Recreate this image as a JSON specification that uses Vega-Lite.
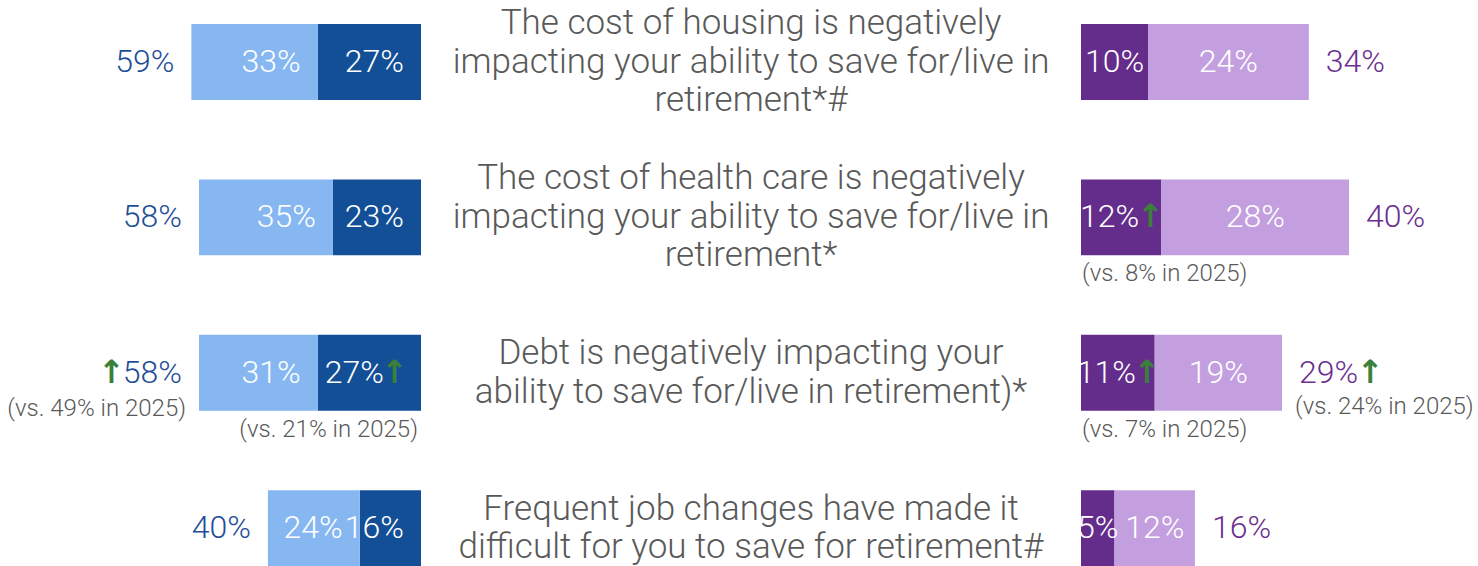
{
  "$schema": "https://vega.github.io/schema/vega-lite/v6.json",
  "padding": 0,
  "spacing": 0,
  "bounds": "flush",
  "resolve": {"scale": {"color": "independent", "x": "independent", "y": "independent"}},
  "config": {"view": {"stroke": null}, "text": {"font": "Roboto", "fontWeight": 300}},
  "datasets": {
    "bars": [
      {"item": "Housing", "side": "agree", "seg": "Strongly", "value": 27, "label": "27%", "up": false},
      {"item": "Housing", "side": "agree", "seg": "Somewhat", "value": 33, "label": "33%", "up": false, "total": "59%"},
      {"item": "Health care", "side": "agree", "seg": "Strongly", "value": 23, "label": "23%", "up": false},
      {"item": "Health care", "side": "agree", "seg": "Somewhat", "value": 35, "label": "35%", "up": false, "total": "58%"},
      {"item": "Debt", "side": "agree", "seg": "Strongly", "value": 27, "label": "27%", "up": true, "note": "(vs. 21% in 2025)"},
      {"item": "Debt", "side": "agree", "seg": "Somewhat", "value": 31, "label": "31%", "up": false, "total": "58%", "totalUp": true, "totalNote": "(vs. 49% in 2025)"},
      {"item": "Job changes", "side": "agree", "seg": "Strongly", "value": 16, "label": "16%", "up": false},
      {"item": "Job changes", "side": "agree", "seg": "Somewhat", "value": 24, "label": "24%", "up": false, "total": "40%"},
      {"item": "Housing", "side": "disagree", "seg": "Strongly", "value": 10, "label": "10%", "up": false},
      {"item": "Housing", "side": "disagree", "seg": "Somewhat", "value": 24, "label": "24%", "up": false, "total": "34%"},
      {"item": "Health care", "side": "disagree", "seg": "Strongly", "value": 12, "label": "12%", "up": true, "note": "(vs. 8% in 2025)"},
      {"item": "Health care", "side": "disagree", "seg": "Somewhat", "value": 28, "label": "28%", "up": false, "total": "40%"},
      {"item": "Debt", "side": "disagree", "seg": "Strongly", "value": 11, "label": "11%", "up": true, "note": "(vs. 7% in 2025)"},
      {"item": "Debt", "side": "disagree", "seg": "Somewhat", "value": 19, "label": "19%", "up": false, "total": "29%", "totalUp": true, "totalNote": "(vs. 24% in 2025)"},
      {"item": "Job changes", "side": "disagree", "seg": "Strongly", "value": 5, "label": "5%", "up": false},
      {"item": "Job changes", "side": "disagree", "seg": "Somewhat", "value": 12, "label": "12%", "up": false, "total": "16%"}
    ],
    "items": [
      {"item": "Housing", "lines": ["The cost of housing is negatively", "impacting your ability to save for/live in", "retirement*#"]},
      {"item": "Health care", "lines": ["The cost of health care is negatively", "impacting your ability to save for/live in", "retirement*"]},
      {"item": "Debt", "lines": ["Debt is negatively impacting your", "ability to save for/live in retirement)*"]},
      {"item": "Job changes", "lines": ["Frequent job changes have made it", "difficult for you to save for retirement#"]}
    ]
  },
  "hconcat": [
    {
      "width": 421,
      "height": 566,
      "data": {"name": "bars"},
      "transform": [
        {"filter": "datum.side === 'agree'"},
        {"stack": "value", "groupby": ["item"], "sort": [{"field": "seg", "order": "descending"}], "as": ["v0", "v1"]}
      ],
      "encoding": {
        "y": {"field": "item", "type": "nominal", "axis": null, "scale": {"type": "band", "domain": ["Housing", "Health care", "Debt", "Job changes"], "paddingInner": 0.512, "paddingOuter": 0.0776, "align": 1}},
        "x": {"field": "v0", "type": "quantitative", "axis": null, "scale": {"domain": [0, 110], "reverse": true, "nice": false, "zero": false}}
      },
      "layer": [
        {
          "mark": {"type": "bar"},
          "encoding": {
            "x2": {"field": "v1"},
            "color": {"field": "seg", "type": "nominal", "legend": null, "scale": {"domain": ["Strongly", "Somewhat"], "range": ["#134F97", "#86B7F1"]}}
          }
        },
        {
          "transform": [{"filter": "!datum.up"}],
          "mark": {"type": "text", "align": "right", "baseline": "middle", "dx": -17, "fontSize": 32, "color": "#FFFFFF"},
          "encoding": {"text": {"field": "label"}}
        },
        {
          "transform": [{"filter": "datum.up"}],
          "mark": {"type": "text", "align": "right", "baseline": "middle", "dx": -37, "fontSize": 32, "color": "#FFFFFF"},
          "encoding": {"text": {"field": "label"}}
        },
        {
          "transform": [{"filter": "datum.up"}],
          "mark": {"type": "text", "align": "right", "baseline": "middle", "dx": -13, "fontSize": 32, "font": "DejaVu Sans", "fontWeight": "bold", "color": "#3B7F3A"},
          "encoding": {"text": {"value": "↑"}}
        },
        {
          "transform": [{"filter": "datum.total"}],
          "mark": {"type": "text", "align": "right", "baseline": "middle", "dx": -17, "fontSize": 32, "color": "#1F4E98"},
          "encoding": {"x": {"field": "v1", "type": "quantitative"}, "text": {"field": "total"}}
        },
        {
          "transform": [{"filter": "datum.totalUp"}],
          "mark": {"type": "text", "align": "right", "baseline": "middle", "dx": -74, "fontSize": 32, "font": "DejaVu Sans", "fontWeight": "bold", "color": "#3B7F3A"},
          "encoding": {"x": {"field": "v1", "type": "quantitative"}, "text": {"value": "↑"}}
        },
        {
          "transform": [{"filter": "datum.totalNote"}],
          "mark": {"type": "text", "align": "right", "baseline": "middle", "dx": -13, "dy": 36, "fontSize": 24, "color": "#595959"},
          "encoding": {"x": {"field": "v1", "type": "quantitative"}, "text": {"field": "totalNote"}}
        },
        {
          "transform": [{"filter": "datum.note"}],
          "mark": {"type": "text", "align": "right", "baseline": "middle", "dx": -3, "dy": 57, "fontSize": 24, "color": "#595959"},
          "encoding": {"text": {"field": "note"}}
        }
      ]
    },
    {
      "width": 660,
      "height": 566,
      "data": {"name": "items"},
      "encoding": {
        "y": {"field": "item", "type": "nominal", "axis": null, "scale": {"type": "band", "domain": ["Housing", "Health care", "Debt", "Job changes"], "paddingInner": 0.512, "paddingOuter": 0.0776, "align": 1}},
        "text": {"field": "lines"}
      },
      "layer": [
        {
          "transform": [{"filter": "length(datum.lines) === 3"}],
          "mark": {"type": "text", "align": "center", "baseline": "middle", "dy": -39, "fontSize": 35, "lineHeight": 38.5, "color": "#595959"}
        },
        {
          "transform": [{"filter": "length(datum.lines) === 2"}],
          "mark": {"type": "text", "align": "center", "baseline": "middle", "dy": -19.5, "fontSize": 35, "lineHeight": 38.5, "color": "#595959"}
        }
      ]
    },
    {
      "width": 397,
      "height": 566,
      "data": {"name": "bars"},
      "transform": [
        {"filter": "datum.side === 'disagree'"},
        {"stack": "value", "groupby": ["item"], "sort": [{"field": "seg", "order": "descending"}], "as": ["v0", "v1"]}
      ],
      "encoding": {
        "y": {"field": "item", "type": "nominal", "axis": null, "scale": {"type": "band", "domain": ["Housing", "Health care", "Debt", "Job changes"], "paddingInner": 0.512, "paddingOuter": 0.0776, "align": 1}},
        "x": {"field": "v0", "type": "quantitative", "axis": null, "scale": {"domain": [0, 59.25], "nice": false, "zero": false}}
      },
      "layer": [
        {
          "mark": {"type": "bar"},
          "encoding": {
            "x2": {"field": "v1"},
            "color": {"field": "seg", "type": "nominal", "legend": null, "scale": {"domain": ["Strongly", "Somewhat"], "range": ["#642D8C", "#C49FDF"]}}
          }
        },
        {
          "transform": [
            {"fold": ["v0", "v1"], "as": ["k", "pos"]},
            {"aggregate": [{"op": "mean", "field": "pos", "as": "mid"}], "groupby": ["item", "seg", "label", "up"]}
          ],
          "encoding": {"x": {"field": "mid", "type": "quantitative"}},
          "layer": [
            {
              "transform": [{"filter": "!datum.up"}],
              "mark": {"type": "text", "align": "center", "baseline": "middle", "fontSize": 32, "color": "#FFFFFF"},
              "encoding": {"text": {"field": "label"}}
            },
            {
              "transform": [{"filter": "datum.up"}],
              "mark": {"type": "text", "align": "right", "baseline": "middle", "dx": 18, "fontSize": 32, "color": "#FFFFFF"},
              "encoding": {"text": {"field": "label"}}
            },
            {
              "transform": [{"filter": "datum.up"}],
              "mark": {"type": "text", "align": "left", "baseline": "middle", "dx": 16, "fontSize": 32, "font": "DejaVu Sans", "fontWeight": "bold", "color": "#3B7F3A"},
              "encoding": {"text": {"value": "↑"}}
            }
          ]
        },
        {
          "transform": [{"filter": "datum.total"}],
          "mark": {"type": "text", "align": "left", "baseline": "middle", "dx": 17, "fontSize": 32, "color": "#6B2F90"},
          "encoding": {"x": {"field": "v1", "type": "quantitative"}, "text": {"field": "total"}}
        },
        {
          "transform": [{"filter": "datum.totalUp"}],
          "mark": {"type": "text", "align": "left", "baseline": "middle", "dx": 75, "fontSize": 32, "font": "DejaVu Sans", "fontWeight": "bold", "color": "#3B7F3A"},
          "encoding": {"x": {"field": "v1", "type": "quantitative"}, "text": {"value": "↑"}}
        },
        {
          "transform": [{"filter": "datum.totalNote"}],
          "mark": {"type": "text", "align": "left", "baseline": "middle", "dx": 13, "dy": 34, "fontSize": 24, "color": "#595959"},
          "encoding": {"x": {"field": "v1", "type": "quantitative"}, "text": {"field": "totalNote"}}
        },
        {
          "transform": [{"filter": "datum.note"}],
          "mark": {"type": "text", "align": "left", "baseline": "middle", "dx": 1, "dy": 57, "fontSize": 24, "color": "#595959"},
          "encoding": {"text": {"field": "note"}}
        }
      ]
    }
  ]
}
